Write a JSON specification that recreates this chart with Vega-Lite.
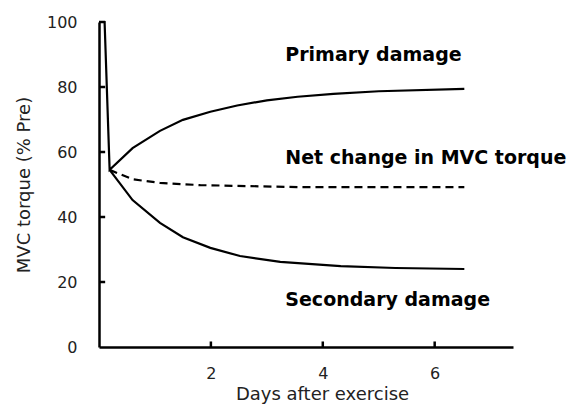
{
  "$schema": "https://vega.github.io/schema/vega-lite/v6.json",
  "width": 414,
  "height": 325,
  "autosize": "none",
  "padding": {"left": 99, "top": 22, "right": 65, "bottom": 62},
  "background": "white",
  "config": {
    "view": {"stroke": null},
    "font": "DejaVu Sans",
    "axis": {
      "grid": false,
      "ticks": false,
      "domainColor": "black",
      "domainWidth": 2.5,
      "labelFont": "DejaVu Sans",
      "labelFontSize": 16,
      "labelColor": "#222",
      "titleFont": "DejaVu Sans",
      "titleFontSize": 18,
      "titleFontWeight": "normal",
      "titleColor": "#222"
    }
  },
  "datasets": {
    "curves": [
      {"series": "Primary", "day": 0, "torque": 100},
      {"series": "Primary", "day": 0.1, "torque": 100},
      {"series": "Primary", "day": 0.19, "torque": 54.5},
      {"series": "Primary", "day": 0.6, "torque": 61.2},
      {"series": "Primary", "day": 1.09, "torque": 66.5},
      {"series": "Primary", "day": 1.5, "torque": 69.9},
      {"series": "Primary", "day": 1.99, "torque": 72.4},
      {"series": "Primary", "day": 2.47, "torque": 74.3},
      {"series": "Primary", "day": 3.0, "torque": 75.9},
      {"series": "Primary", "day": 3.55, "torque": 77.0},
      {"series": "Primary", "day": 4.19, "torque": 77.9},
      {"series": "Primary", "day": 5.0, "torque": 78.7},
      {"series": "Primary", "day": 6.53, "torque": 79.4},
      {"series": "Secondary", "day": 0.19, "torque": 54.5},
      {"series": "Secondary", "day": 0.6, "torque": 45.2},
      {"series": "Secondary", "day": 1.09, "torque": 38.2},
      {"series": "Secondary", "day": 1.5, "torque": 33.8},
      {"series": "Secondary", "day": 1.99, "torque": 30.5},
      {"series": "Secondary", "day": 2.52, "torque": 28.0},
      {"series": "Secondary", "day": 3.24, "torque": 26.2},
      {"series": "Secondary", "day": 4.32, "torque": 24.9},
      {"series": "Secondary", "day": 5.3, "torque": 24.3},
      {"series": "Secondary", "day": 6.53, "torque": 24.0}
    ],
    "net": [
      {"day": 0.19, "torque": 54.5},
      {"day": 0.6, "torque": 51.6},
      {"day": 1.09, "torque": 50.5},
      {"day": 1.81, "torque": 49.8},
      {"day": 3.6, "torque": 49.2},
      {"day": 6.53, "torque": 49.2}
    ],
    "labels": [
      {"day": 3.33, "torque": 90, "label": "Primary damage"},
      {"day": 3.33, "torque": 58.2, "label": "Net change in MVC torque"},
      {"day": 3.33, "torque": 14.5, "label": "Secondary damage"}
    ],
    "yticks": [
      {"torque": 20}, {"torque": 40}, {"torque": 60}, {"torque": 80}, {"torque": 100}
    ],
    "xticks": [
      {"day": 2}, {"day": 4}, {"day": 6}
    ]
  },
  "layer": [
    {
      "data": {"name": "curves"},
      "mark": {"type": "line", "color": "black", "strokeWidth": 2.2},
      "encoding": {
        "x": {"field": "day", "type": "quantitative",
              "scale": {"domain": [0, 7.4], "nice": false},
              "axis": {"values": [2, 4, 6], "format": "d", "title": "Days after exercise", "titleFontSize": 18, "titleX": 223, "labelPadding": 18, "titlePadding": 4}},
        "y": {"field": "torque", "type": "quantitative",
              "scale": {"domain": [0, 100], "nice": false},
              "axis": {"values": [0, 20, 40, 60, 80, 100], "title": "MVC torque (% Pre)", "labelPadding": 22, "titlePadding": 13}},
        "detail": {"field": "series"}
      }
    },
    {
      "data": {"name": "yticks"},
      "mark": {"type": "rule", "color": "black", "strokeWidth": 2.5},
      "encoding": {
        "x": {"datum": 0, "type": "quantitative"},
        "x2": {"datum": 0.11},
        "y": {"field": "torque", "type": "quantitative"}
      }
    },
    {
      "data": {"name": "xticks"},
      "mark": {"type": "rule", "color": "black", "strokeWidth": 2.5},
      "encoding": {
        "x": {"field": "day", "type": "quantitative"},
        "y": {"datum": 0, "type": "quantitative"},
        "y2": {"datum": 1.7}
      }
    },
    {
      "data": {"name": "net"},
      "mark": {"type": "line", "color": "black", "strokeWidth": 2.2, "strokeDash": [8, 5]},
      "encoding": {
        "x": {"field": "day", "type": "quantitative"},
        "y": {"field": "torque", "type": "quantitative"}
      }
    },
    {
      "data": {"name": "labels"},
      "mark": {"type": "text", "align": "left", "baseline": "middle", "fontWeight": "bold", "fontSize": 19, "font": "DejaVu Sans", "color": "black"},
      "encoding": {
        "x": {"field": "day", "type": "quantitative"},
        "y": {"field": "torque", "type": "quantitative"},
        "text": {"field": "label"}
      }
    }
  ]
}
